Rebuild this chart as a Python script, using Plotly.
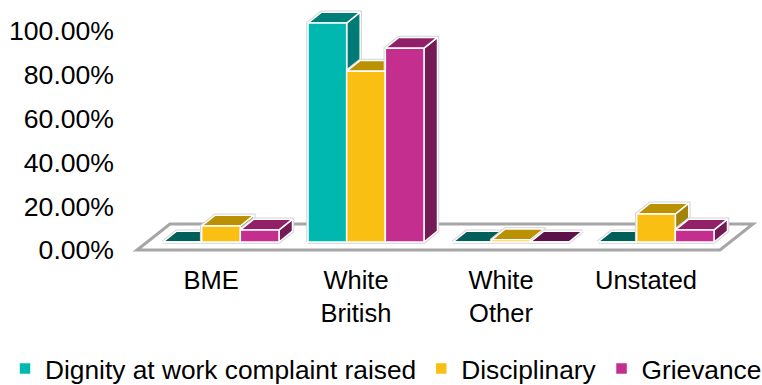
import plotly.graph_objects as go

categories = [0, 1, 2, 3]
category_labels = ["BME", "White<br>British", "White<br>Other", "Unstated"]
series_names = ["Dignity at work complaint raised", "Disciplinary", "Grievance"]
y_tick_values = [0, 20, 40, 60, 80, 100]
y_tick_labels = ["0.00%", "20.00%", "40.00%", "60.00%", "80.00%", "100.00%"]
dignity = [0, 100, 0, 0]
disciplinary = [7.3, 78, 1, 12.8]
grievance = [5.5, 88.5, 0, 5.5]

front_colors = ["#00B8B0", "#F9BF13", "#C32E8F"]
top_colors = ["#007F79", "#BB9104", "#912068"]
side_colors = ["#007A74", "#A3820A", "#741A55"]
flat_colors = ["#005F59", "#BB9104", "#5C1248"]

FONT = dict(family="Liberation Sans, Arial, sans-serif", size=26.6, color="#000000")
X_FONT = dict(family="Liberation Sans, Arial, sans-serif", size=25.5, color="#000000")
LEGEND_FONT = dict(family="Liberation Sans, Arial, sans-serif", size=26.3, color="#000000")
W, H = 800, 385  # wider than the window so the one-line legend does not wrap
BODY = 0  # the page margin is removed by the post script below
L, R, T, B = 120, 800, 8, 262  # plot area in window pixels
PX_X = 145.0
PX_Y = 2.19
DX = 13.5 / PX_X
DY = 10.8 / PX_Y
BAR_W = 0.8 / 3


def xrange_for(px_at_zero):
    return [(L - px_at_zero) / PX_X, (R - px_at_zero) / PX_X]


def yrange_for(px_at_zero):
    return [(px_at_zero - B) / PX_Y, (px_at_zero - T) / PX_Y]


fig = go.Figure()
all_values = [dignity, disciplinary, grievance]

for s, values in enumerate(all_values):
    for c, v in zip(categories, values):
        left = c + (s - 1.5) * BAR_W
        right = left + BAR_W
        fig.add_trace(go.Scatter(
            x=[left, left, left + DX, right + DX, right + DX, right, left],
            y=[0, v, v + DY, v + DY, DY, 0, 0],
            mode="lines", line=dict(color="#D4D4D4", width=3.5), showlegend=False,
            hoverinfo="skip", xaxis="x2", yaxis="y2"))
        if v > 0:
            fig.add_trace(go.Scatter(
                x=[right, right, right + DX, right + DX, right],
                y=[0, v, v + DY, DY, 0],
                mode="lines", fill="toself", fillcolor=side_colors[s],
                line=dict(color="#FFFFFF", width=1.5), showlegend=False,
                hoverinfo="skip", xaxis="x2", yaxis="y2"))
        fig.add_trace(go.Scatter(
            x=[left, right, right + DX, left + DX, left],
            y=[v, v, v + DY, v + DY, v],
            mode="lines", fill="toself",
            fillcolor=top_colors[s] if v > 0 else flat_colors[s],
            line=dict(color="#FFFFFF", width=1.5), showlegend=False,
            hoverinfo="skip", xaxis="x2", yaxis="y2"))

for s, values in enumerate(all_values):
    fig.add_trace(go.Bar(
        x=categories, y=values, name=series_names[s],
        marker=dict(color=front_colors[s], line=dict(color="#FFFFFF", width=1.5)),
        xaxis="x3", yaxis="y3"))

fig.add_trace(go.Scatter(x=categories, y=[0, 0, 0, 0], mode="none",
                         showlegend=False, hoverinfo="skip"))

xr0, yr0 = xrange_for(211), yrange_for(250)
xr1, yr1 = xrange_for(221), yrange_for(242)


def fx(px):
    return (px - 211) / PX_X


def fy(py):
    return (250 - py) / PX_Y


floor = (f"M{fx(137)},{fy(250)} L{fx(720)},{fy(250)} "
         f"L{fx(753)},{fy(224)} L{fx(170)},{fy(224)} Z")

plot_w = R - L
plot_h = B - T
LEGEND_LEFT = 5
LEGEND_TOP = 345

fig.update_layout(
    width=W, height=H,
    margin=dict(l=L - BODY, r=W + BODY - R, t=T - BODY, b=H + BODY - B, autoexpand=False),
    paper_bgcolor="#FFFFFF", plot_bgcolor="rgba(0,0,0,0)",
    font=FONT, barmode="group", bargap=0.2, bargroupgap=0,
    shapes=[dict(type="path", path=floor, xref="x", yref="y", layer="below",
                 fillcolor="#FFFFFF", line=dict(color="#A6A6A6", width=3))],
    xaxis=dict(range=xr0, tickmode="array", tickvals=categories,
               ticktext=category_labels, showgrid=False, zeroline=False,
               showline=False, ticks="", fixedrange=True, tickfont=X_FONT),
    yaxis=dict(range=yr0, tickmode="array", tickvals=y_tick_values,
               ticktext=y_tick_labels, showgrid=False, zeroline=False,
               showline=False, ticks="", ticklabelstandoff=5, fixedrange=True),
    xaxis2=dict(range=xr1, overlaying="x", visible=False),
    yaxis2=dict(range=yr1, overlaying="y", visible=False),
    xaxis3=dict(range=xr1, overlaying="x", visible=False),
    yaxis3=dict(range=yr1, overlaying="y", visible=False),
    legend=dict(orientation="h", x=(LEGEND_LEFT - L) / plot_w, xanchor="left",
                y=(B - LEGEND_TOP) / plot_h, yanchor="top",
                bgcolor="rgba(0,0,0,0)", font=LEGEND_FONT, traceorder="normal"),
)
fig.write_html("out.html", config={"displayModeBar": False},
               post_script="document.body.style.margin='0';"
                           "document.documentElement.style.overflow='hidden';")
